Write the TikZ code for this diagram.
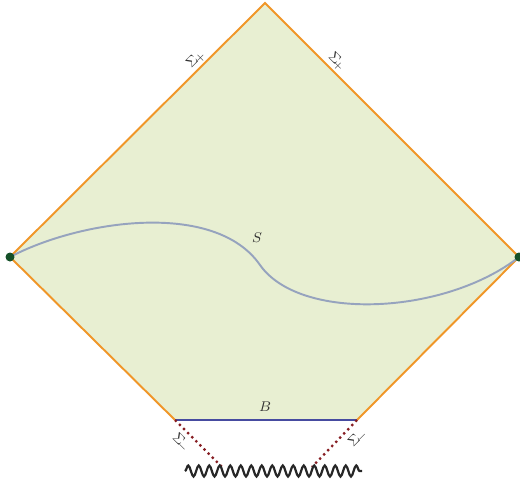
\documentclass[tikz,border=0pt]{standalone}
\usepackage{tikz}
\usetikzlibrary{decorations.pathmorphing}
\usepackage{amsmath,amssymb}

\definecolor{regionfill}{RGB}{232,239,210}
\definecolor{scriorange}{RGB}{240,150,40}
\definecolor{bdryblue}{RGB}{70,75,160}
\definecolor{slicegrey}{RGB}{150,163,190}
\definecolor{horizonred}{RGB}{135,30,35}
\definecolor{pointgreen}{RGB}{20,80,40}
\definecolor{labelgrey}{RGB}{50,50,50}

\tikzset{
  scri/.style={draw=scriorange, line width=1.1pt},
  horizon/.style={draw=horizonred, line width=1.3pt, dotted},
  sing/.style={draw=black!85, line width=1.25pt, decorate,
    decoration={snake, segment length=0.21cm, amplitude=0.11cm}},
  edgelabel/.style={text=labelgrey, font=\footnotesize, inner sep=1pt}
}

\begin{document}
\begin{tikzpicture}[x=0.02cm, y=-0.02cm, font=\footnotesize]
\useasboundingbox (0,0) rectangle (520,484);
\coordinate (west) at (10,257);
\coordinate (north) at (265,3);
\coordinate (east) at (519,257);
\coordinate (bl) at (175,420);
\coordinate (br) at (357,420);
\coordinate (hl) at (222,467);
\coordinate (hr) at (312,467);
\coordinate (singl) at (185,471);
\coordinate (singr) at (362,471);
\coordinate (mid) at (260,265);

\fill[regionfill] (west) -- (north) -- (east) -- (br) -- (bl) -- cycle;
\draw[scri] (bl) -- (west) -- (north) -- (east) -- (br);
\draw[bdryblue, line width=1.1pt] (bl) -- (br);
\draw[slicegrey, line width=1.1pt] (west) .. controls (80,220) and (215,200) .. (mid)
  .. controls (300,322) and (445,315) .. (east);
\draw[horizon] (bl) -- (hl);
\draw[horizon] (br) -- (hr);
\draw[sing] (singl) -- (singr);
\fill[pointgreen] (west) circle (4.5);
\fill[pointgreen] (east) circle (4.5);

\node[edgelabel, rotate=45] (sigtl) at (196,59) {$\Sigma_{\!+}$};
\node[edgelabel, rotate=-45] (sigtr) at (337,62) {$\Sigma_{\!+}$};
\node[edgelabel, rotate=-45] (sigbl) at (181,443) {$\Sigma_{\!-}$};
\node[edgelabel, rotate=45] (sigbr) at (358,438) {$\Sigma_{\!-}$};
\node[text=labelgrey] (slabel) at (257,238) {$S$};
\node[text=labelgrey] (blabel) at (265,407) {$B$};
\end{tikzpicture}
\end{document}
